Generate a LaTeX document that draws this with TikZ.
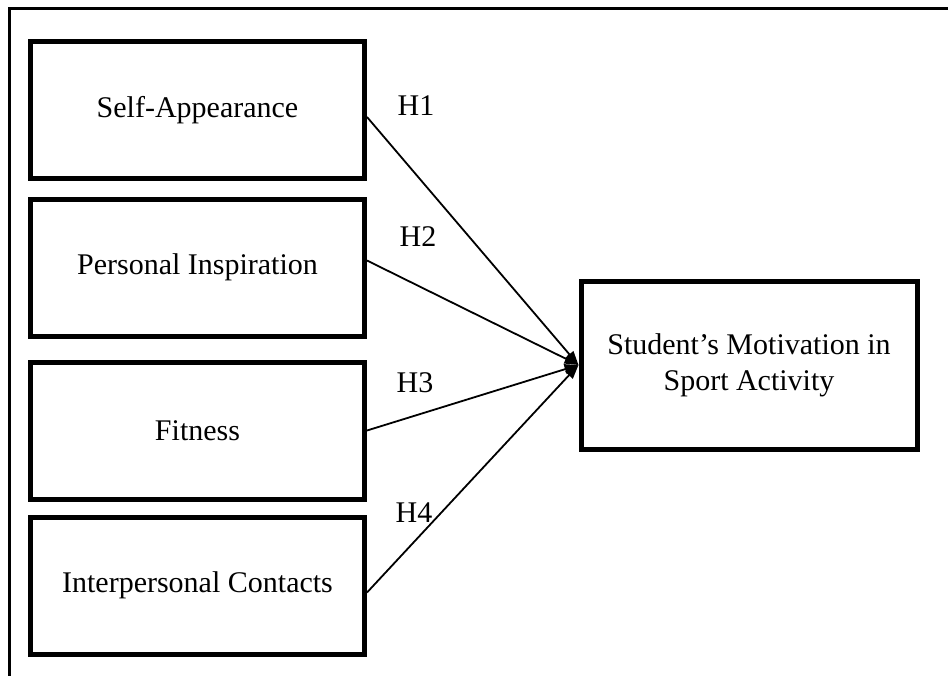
\documentclass[tikz,border=0pt]{standalone}
\usepackage{fontspec}
\setmainfont{Liberation Serif}
\usetikzlibrary{arrows.meta}
\tikzset{
  x=0.5pt, y=-0.5pt,
  factor/.style={draw, line width=2.5pt, minimum width=167pt, minimum height=68.5pt, inner sep=0pt, align=center, font=\fontsize{15}{18}\selectfont},
  outcome/.style={draw, line width=2.5pt, minimum width=168pt, minimum height=84pt, inner sep=0pt, align=center, font=\fontsize{15}{18}\selectfont},
  link/.style={line width=0.9pt, -{Triangle[length=7pt,width=5pt]}},
  hlabel/.style={inner sep=0pt, font=\fontsize{15}{18}\selectfont}
}
\begin{document}
\begin{tikzpicture}
\useasboundingbox (0,0) rectangle (948,675);
\draw[line width=1.6pt] (9.5,677) -- (9.5,8.5) -- (950,8.5);
\node[factor] (b1) at (197.5,110) {Self-Appearance};
\node[factor] (b2) at (197.5,267.5) {Personal Inspiration};
\node[factor] (b3) at (197.5,430.5) {Fitness};
\node[factor] (b4) at (197.5,585.5) {Interpersonal Contacts};
\node[outcome] (rb) at (749,365) {Student’s Motivation in\\Sport Activity};
\draw[link] ([yshift=-3.5pt]b1.east) -- (rb.west);
\draw[link] ([yshift=3.5pt]b2.east) -- (rb.west);
\draw[link] (b3.east) -- (rb.west);
\draw[link] ([yshift=-3.5pt]b4.east) -- (rb.west);
\node[hlabel] (h1) at (416,106) {H1};
\node[hlabel] (h2) at (418,237) {H2};
\node[hlabel] (h3) at (415,383) {H3};
\node[hlabel] (h4) at (414,513) {H4};
\end{tikzpicture}
\end{document}
